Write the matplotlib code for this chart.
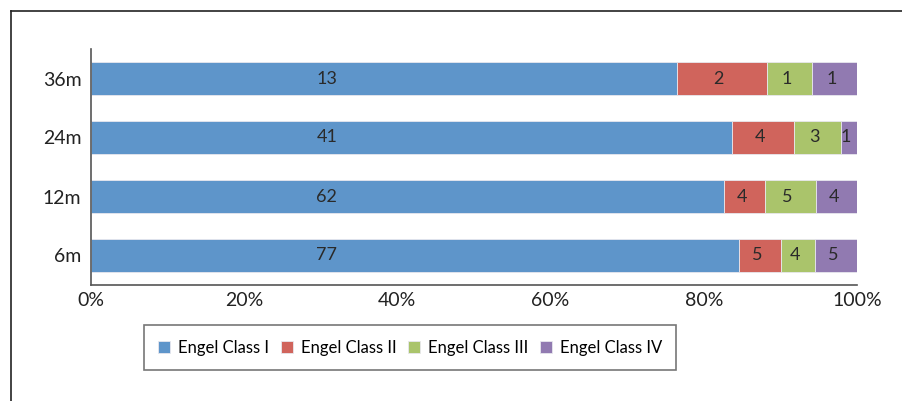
import numpy as np
import matplotlib.pyplot as plt
from matplotlib.lines import Line2D

plt.rcParams.update({
    "font.family": ["Lato", "DejaVu Sans"],
    "font.size": 12.5,
})

# Datos
periods = ["6m", "12m", "24m", "36m"]
classes = ["Engel Class I", "Engel Class II", "Engel Class III", "Engel Class IV"]
class_1 = [77, 62, 41, 13]
class_2 = [5, 4, 4, 2]
class_3 = [4, 5, 3, 1]
class_4 = [5, 4, 1, 1]
colors = ["#5E95CA", "#D0645C", "#AAC46B", "#917AB1"]

counts = np.array([class_1, class_2, class_3, class_4], dtype=float)
totals = counts.sum(axis=0)
shares = counts / totals * 100

fig = plt.figure(figsize=(9.02, 4.01), dpi=100)
ax = fig.add_axes([91 / 902, 1 - 285 / 401, (857 - 91) / 902, (285 - 49) / 401])

y = np.arange(len(periods))
left = np.zeros(len(periods))
for i, name in enumerate(classes):
    bars = ax.barh(y, shares[i], left=left, height=0.57, color=colors[i],
                   edgecolor="#e8e8ee", linewidth=0.6, label=name)
    for j, b in enumerate(bars):
        # la etiqueta de la clase I queda en la misma posicion en todas las barras
        xpos = 30.8 if i == 0 else left[j] + shares[i][j] / 2 - 0.4
        ax.text(xpos, y[j], f"{int(counts[i][j])}",
                ha="center", va="center", color="#2a2a2a", fontsize=13)
    left += shares[i]

ax.set_xlim(0, 100)
ax.set_ylim(-0.5, len(periods) - 0.5)
ax.set_yticks(y)
ax.set_yticklabels(periods, fontsize=14)
ax.set_xticks(np.arange(0, 101, 20))
ax.set_xticklabels([f"{v}%" for v in range(0, 101, 20)], fontsize=14)
ax.tick_params(length=0, colors="#222222")
ax.tick_params(axis="x", pad=5)
ax.tick_params(axis="y", pad=7)
for s in ["top", "right"]:
    ax.spines[s].set_visible(False)
for s in ["left", "bottom"]:
    ax.spines[s].set_color("#555555")
    ax.spines[s].set_linewidth(1.2)

leg = fig.legend(loc="center", bbox_to_anchor=(410 / 902, 1 - 347.5 / 401), ncol=4,
                 frameon=True, fancybox=False, handlelength=0.75, handleheight=0.75,
                 handletextpad=0.45, columnspacing=0.7, borderpad=0.85, borderaxespad=0,
                 fontsize=12)
leg.get_frame().set_edgecolor("#555555")
leg.get_frame().set_linewidth(1.2)

# Marco exterior (solo arriba e izquierda)
fig.add_artist(Line2D([11 / 902, 1], [1 - 11 / 401, 1 - 11 / 401], color="#222222", lw=1.2))
fig.add_artist(Line2D([11 / 902, 11 / 902], [0, 1 - 11 / 401], color="#222222", lw=1.2))

fig.savefig("out.png", dpi=100)
